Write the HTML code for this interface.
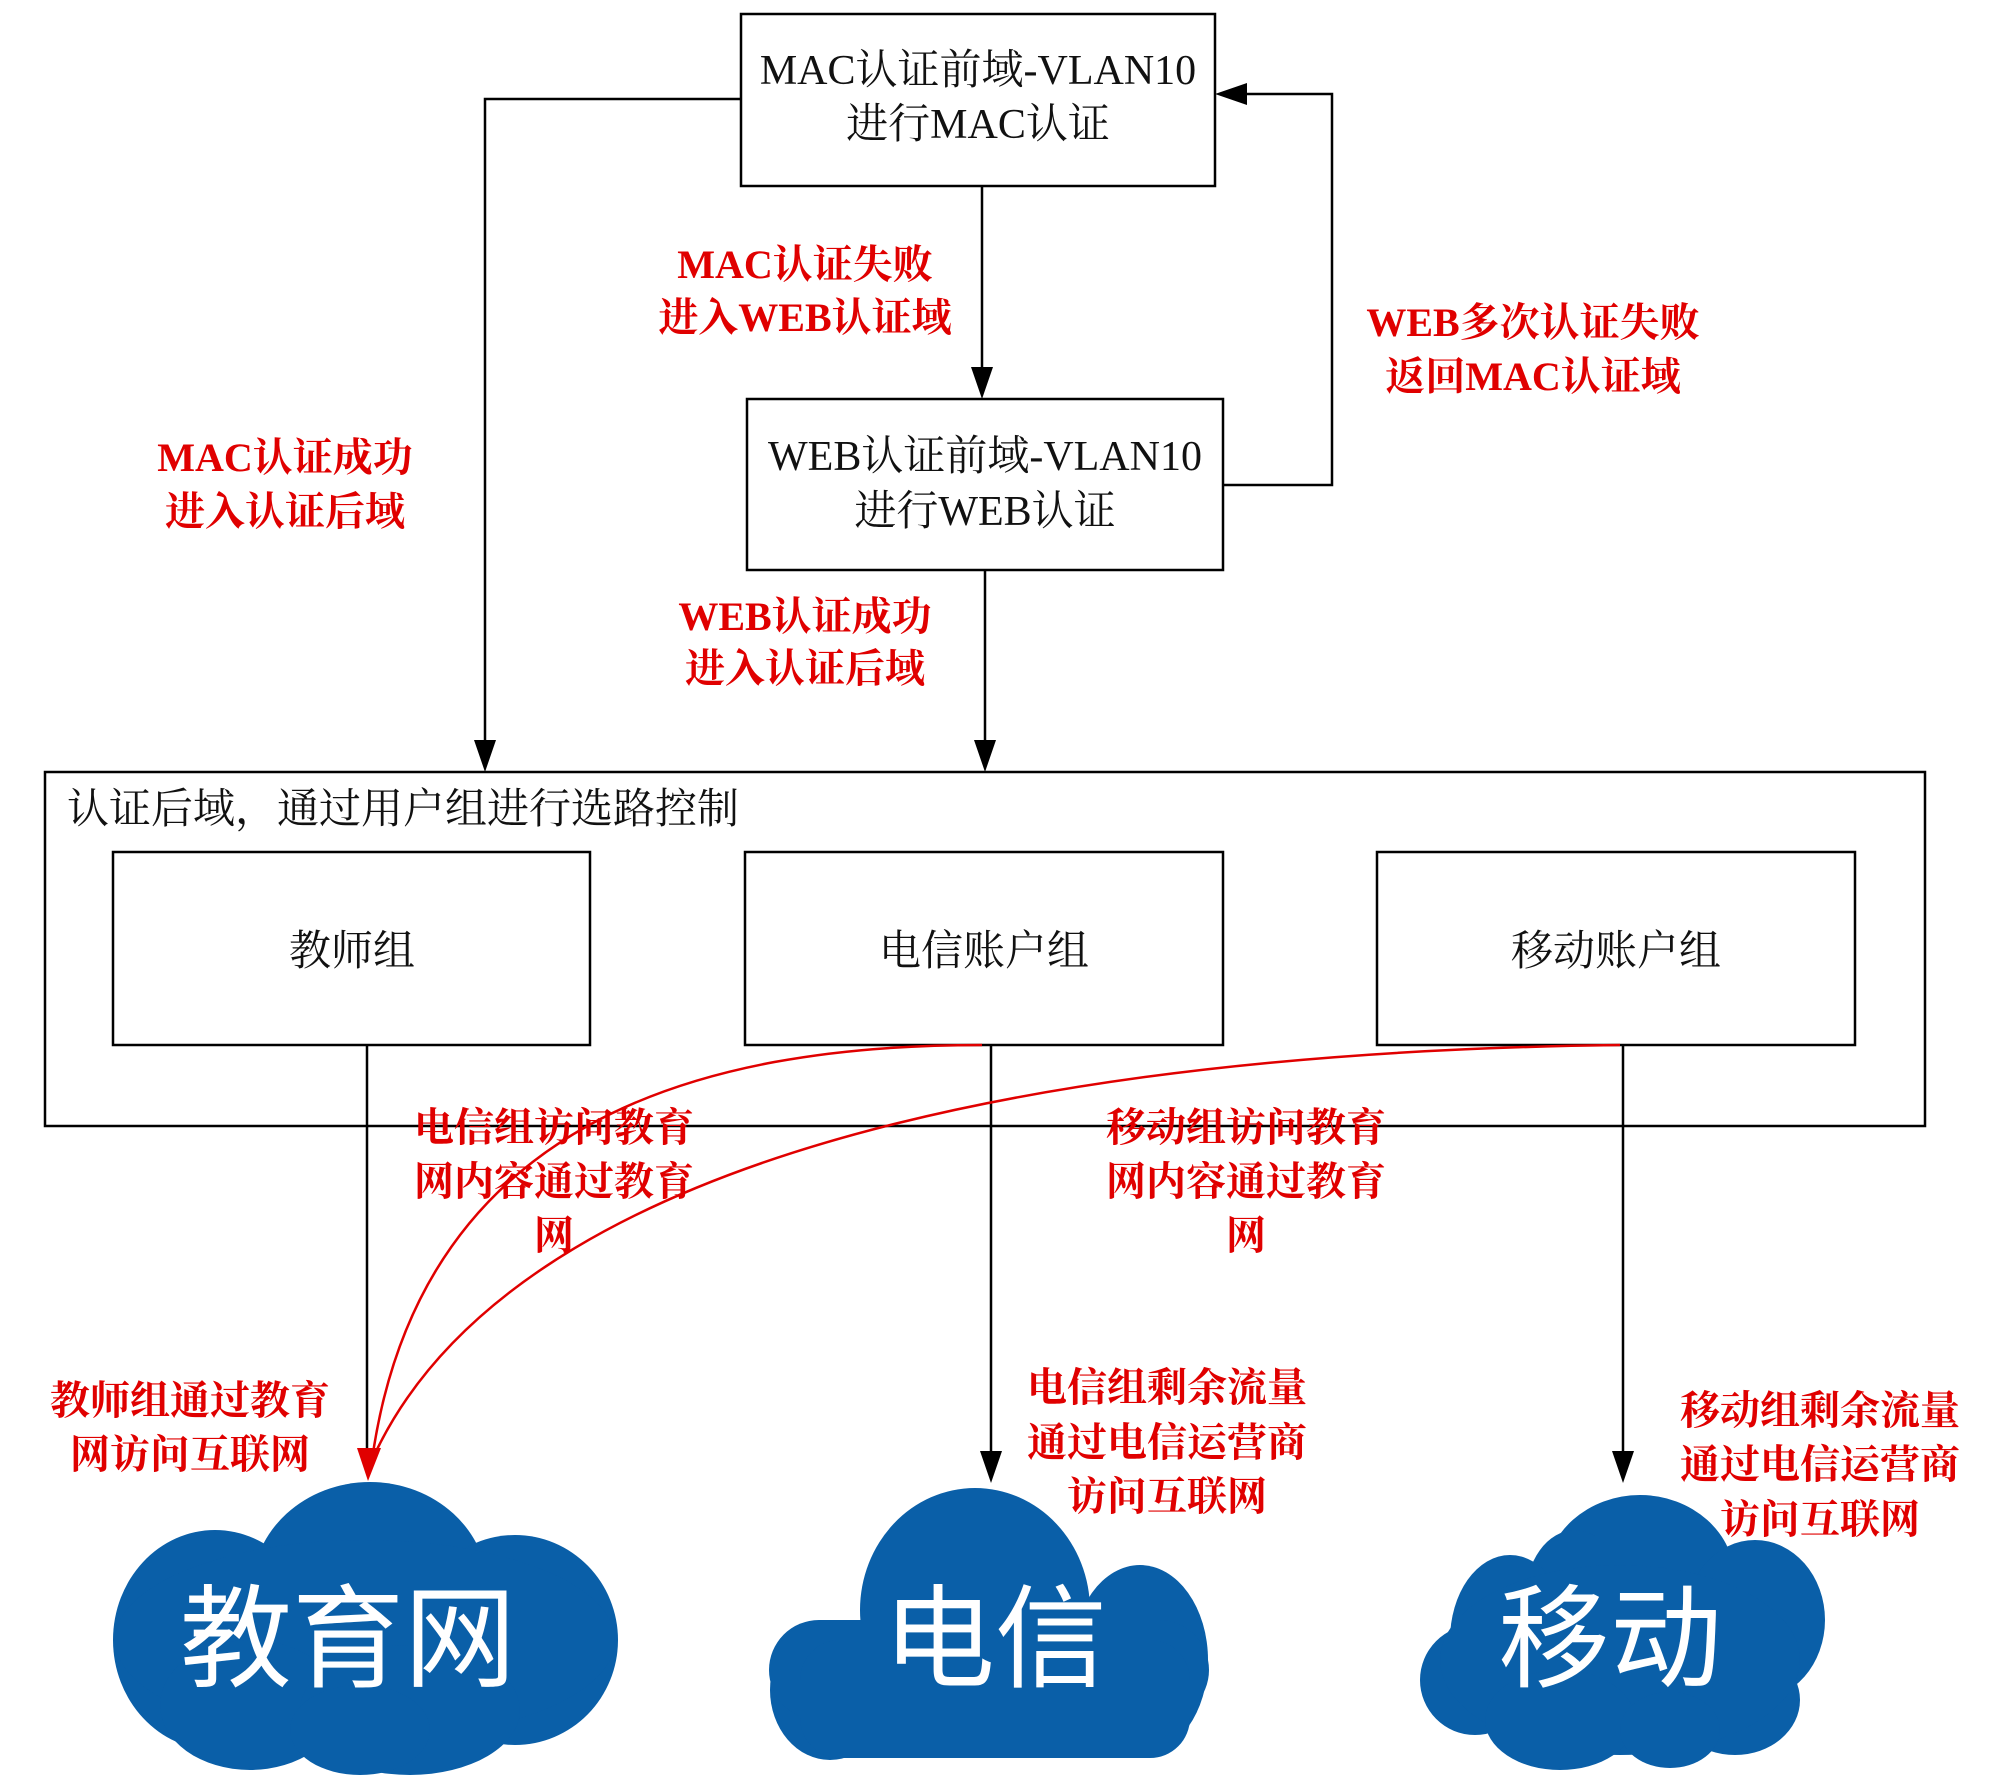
<!DOCTYPE html>
<html><head><meta charset="utf-8"><style>
html,body{margin:0;padding:0;background:#fff;}
svg{display:block;}
.b{font-family:"Liberation Serif","Noto Serif CJK SC",serif;font-size:42px;fill:#111;}
.r{font-family:"Liberation Serif","Noto Serif CJK SC",serif;font-size:40px;fill:#e00000;font-weight:bold;}
.w{font-family:"Liberation Sans","Noto Sans CJK SC",sans-serif;font-size:112px;fill:#fff;}
</style></head><body>
<svg width="2000" height="1785" viewBox="0 0 2000 1785" xmlns="http://www.w3.org/2000/svg">
<defs>
<marker id="ab" markerWidth="12" markerHeight="12" refX="6" refY="12" orient="auto" markerUnits="userSpaceOnUse" viewBox="0 0 12 12"><path d="M0,0 L12,0 L6,12 z" fill="#000" transform="rotate(0)"/></marker>
</defs>
<g fill="none" stroke="#000" stroke-width="2.5">
<rect x="741" y="14" width="474" height="172"/>
<rect x="747" y="399" width="476" height="171"/>
<rect x="45" y="772" width="1880" height="354"/>
<rect x="113" y="852" width="477" height="193"/>
<rect x="745" y="852" width="478" height="193"/>
<rect x="1377" y="852" width="478" height="193"/>
<polyline points="741,99 485,99 485,745"/>
<line x1="982" y1="186" x2="982" y2="372"/>
<polyline points="1223,485 1332,485 1332,94 1242,94"/>
<line x1="985" y1="570" x2="985" y2="745"/>
<line x1="367" y1="1045" x2="367" y2="1455"/>
<line x1="991" y1="1045" x2="991" y2="1455"/>
<line x1="1623" y1="1045" x2="1623" y2="1455"/>
</g>
<g fill="#000">
<path d="M474,740 L496,740 L485,772 z"/>
<path d="M971,367 L993,367 L982,399 z"/>
<path d="M974,740 L996,740 L985,772 z"/>
<path d="M1215,94 L1247,83 L1247,105 z"/>
<path d="M980,1451 L1002,1451 L991,1483 z"/>
<path d="M1612,1451 L1634,1451 L1623,1483 z"/>
</g>
<g fill="none" stroke="#e00000" stroke-width="2.5">
<path d="M982,1045 C700,1045 420,1120 372,1460"/>
<path d="M1620,1045 C1200,1050 530,1110 372,1460"/>
</g>
<path d="M357,1448 L381,1448 L368,1481 z" fill="#e00000"/>
<g class="b" text-anchor="middle">
<text x="978" y="84">MAC认证前域-VLAN10</text>
<text x="978" y="138">进行MAC认证</text>
<text x="985" y="470">WEB认证前域-VLAN10</text>
<text x="985" y="525">进行WEB认证</text>
<text x="352" y="965">教师组</text>
<text x="984" y="965">电信账户组</text>
<text x="1616" y="965">移动账户组</text>
</g>
<text class="b" x="67" y="823">认证后域，通过用户组进行选路控制</text>
<g class="r" text-anchor="middle">
<text x="805" y="278">MAC认证失败</text><text x="805" y="331">进入WEB认证域</text>
<text x="1533" y="336">WEB多次认证失败</text><text x="1533" y="390">返回MAC认证域</text>
<text x="285" y="471">MAC认证成功</text><text x="285" y="525">进入认证后域</text>
<text x="805" y="630">WEB认证成功</text><text x="805" y="682">进入认证后域</text>
<text x="554" y="1141">电信组访问教育</text><text x="554" y="1195">网内容通过教育</text><text x="554" y="1249">网</text>
<text x="1246" y="1141">移动组访问教育</text><text x="1246" y="1195">网内容通过教育</text><text x="1246" y="1249">网</text>
<text x="190" y="1414">教师组通过教育</text><text x="190" y="1468">网访问互联网</text>
<text x="1167" y="1401">电信组剩余流量</text><text x="1167" y="1456">通过电信运营商</text><text x="1167" y="1510">访问互联网</text>
<text x="1820" y="1424">移动组剩余流量</text><text x="1820" y="1478">通过电信运营商</text><text x="1820" y="1533">访问互联网</text>
</g>
<g fill="#0a5fa8">
<ellipse cx="370" cy="1590" rx="118" ry="108"/>
<ellipse cx="215" cy="1640" rx="102" ry="110"/>
<ellipse cx="515" cy="1640" rx="103" ry="105"/>
<ellipse cx="365" cy="1640" rx="250" ry="100"/>
<ellipse cx="250" cy="1705" rx="90" ry="65"/>
<ellipse cx="410" cy="1710" rx="110" ry="65"/>
<ellipse cx="360" cy="1730" rx="70" ry="45"/>
<ellipse cx="975" cy="1610" rx="115" ry="122"/>
<ellipse cx="1140" cy="1660" rx="68" ry="95"/>
<ellipse cx="830" cy="1690" rx="60" ry="70"/>
<rect x="769" y="1620" width="440" height="100" rx="50"/>
<rect x="800" y="1640" width="390" height="118" rx="40"/>
<ellipse cx="1640" cy="1580" rx="95" ry="85"/>
<ellipse cx="1575" cy="1600" rx="50" ry="70"/>
<ellipse cx="1510" cy="1640" rx="60" ry="85"/>
<ellipse cx="1475" cy="1680" rx="55" ry="55"/>
<ellipse cx="1755" cy="1620" rx="70" ry="80"/>
<ellipse cx="1735" cy="1700" rx="65" ry="55"/>
<ellipse cx="1620" cy="1660" rx="180" ry="95"/>
<ellipse cx="1560" cy="1720" rx="75" ry="50"/>
<ellipse cx="1670" cy="1730" rx="50" ry="38"/>
</g>
<g class="w" text-anchor="middle">
<text x="348" y="1678">教育网</text>
<text x="995" y="1678">电信</text>
<text x="1610" y="1678">移动</text>
</g>
</svg>
</body></html>
